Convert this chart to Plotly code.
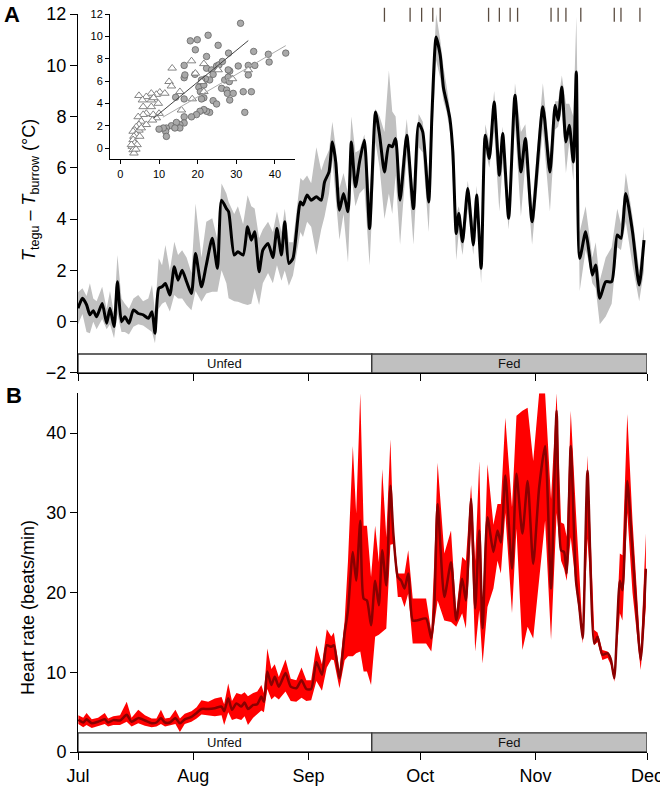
import plotly.graph_objects as go

# ---------------- Panel A: T_tegu - T_burrow (°C), x = days since 1 Jul ----------------
a_day = [0, 1.2, 2.3, 3.2, 4.1, 5.0, 6.5, 7.7, 8.6, 9.7,
         10.6, 11.7, 12.6, 13.7, 14.9, 16.2, 17.5, 18.9, 19.9, 20.7,
         21.7, 22.6, 23.5, 24.7, 25.9, 26.9, 28.0, 29.2, 30.5, 31.6,
         33.2, 34.5, 36.1, 37.5, 38.6, 39.9, 40.5, 42.0, 43.0, 44.4,
         45.6, 46.6, 47.5, 48.7, 49.7, 51.1, 52.4, 53.5, 54.7, 55.6,
         56.7, 57.8, 59.8, 60.5, 61.6, 62.7, 64.1, 65.4, 66.3, 67.5,
         68.4, 69.3, 70.3, 71.4, 72.6, 73.5, 74.6, 75.7, 77.0, 78.4,
         80.0, 81.1, 82.4, 83.6, 84.5, 85.4, 86.6, 88.4, 90.2, 91.6,
         92.7, 94.3, 95.2, 96.3, 97.4, 98.3, 99.1, 100.0, 100.8, 101.7,
         102.4, 103.4, 104.8, 106.3, 107.2, 108.4, 109.5, 110.6, 111.9, 113.3,
         114.2, 115.8, 117.5, 119.1, 120.3, 122.1, 125.0, 126.9, 128.3, 129.1,
         130.1, 131.2, 132.1, 133.2, 134.0, 134.9, 136.5, 137.4, 138.3, 139.2,
         140.3, 141.9, 143.5, 145.0, 146.0, 147.3, 149.1, 150.9, 152.2]
a_mean = [0.52, 0.91, 0.66, 0.27, 0.43, 0.19, 0.71, -0.06, 0.52, -0.19,
          1.56, 0.00, 0.19, -0.06, 0.46, 0.32, 0.27, 0.13, 0.39, -0.45,
          1.30, 1.36, 1.49, 1.04, 2.14, 1.62, 2.01, 1.56, 1.10, 2.66,
          1.36, 2.21, 3.25, 2.08, 4.74, 4.41, 4.29, 2.60, 2.73, 2.60,
          3.70, 3.18, 3.51, 1.95, 2.79, 3.05, 2.50, 3.63, 2.60, 3.90,
          2.27, 2.47, 4.67, 4.55, 4.94, 4.74, 4.87, 4.74, 5.45, 5.84,
          7.01, 6.23, 4.35, 5.00, 4.29, 7.01, 5.26, 6.23, 7.08, 3.63,
          8.18, 7.27, 5.84, 6.88, 6.82, 7.14, 4.74, 7.27, 4.41, 7.73,
          7.40, 4.67, 8.18, 11.10, 10.39, 9.09, 8.57, 7.92, 6.62, 3.44,
          4.22, 3.12, 5.19, 2.99, 4.94, 2.08, 7.27, 6.36, 8.57, 5.71,
          7.34, 4.03, 8.83, 5.84, 7.14, 3.90, 8.38, 5.84, 8.44, 7.86,
          9.15, 7.01, 7.66, 6.23, 9.74, 2.47, 3.51, 2.73, 1.82, 2.21,
          0.91, 1.56, 1.56, 3.38, 3.25, 5.00, 3.51, 1.43, 3.18]
a_lo = [-0.10, 0.30, -0.40, -0.45, 0.00, -0.30, 0.10, -0.30, -0.10, -0.65,
        0.30, -0.40, -0.40, -0.50, -0.20, -0.10, -0.15, -0.30, -0.40, -0.84,
        0.50, 0.70, 0.78, 0.40, 1.04, 0.90, 0.90, 0.65, 0.45, 1.20,
        0.78, 1.10, 1.17, 1.17, 2.01, 1.50, 0.91, 0.80, 0.78, 0.70,
        0.65, 0.70, 1.30, 0.65, 1.50, 1.90, 1.50, 2.20, 1.60, 2.00,
        1.40, 1.80, 3.50, 3.30, 3.90, 3.70, 2.60, 3.60, 4.10, 5.00,
        6.30, 5.00, 3.20, 4.20, 2.30, 5.70, 4.50, 5.00, 5.20, 2.20,
        7.00, 6.00, 4.00, 5.00, 4.20, 5.70, 3.00, 6.50, 3.00, 6.80,
        6.60, 3.50, 7.00, 10.20, 9.50, 8.60, 8.20, 7.40, 5.50, 2.40,
        3.50, 2.60, 4.40, 2.60, 4.50, 1.50, 6.70, 6.00, 7.40, 4.30,
        6.20, 3.60, 7.70, 4.10, 6.20, 3.00, 7.50, 4.30, 7.50, 7.60,
        8.30, 5.80, 7.00, 5.50, 9.50, 1.20, 2.80, 2.30, 1.50, 1.30,
        -0.10, 0.20, 0.70, 2.90, 2.80, 3.90, 2.20, 0.80, 2.00]
a_hi = [1.15, 1.30, 1.00, 1.50, 0.90, 0.80, 1.36, 0.50, 1.20, 0.30,
        2.60, 0.90, 0.70, 0.50, 0.90, 1.04, 0.80, 0.90, 1.43, 0.40,
        2.47, 2.20, 2.99, 2.00, 3.12, 2.60, 2.79, 2.50, 1.90, 4.61,
        2.50, 3.90, 4.03, 3.20, 5.39, 5.00, 4.67, 4.20, 4.50, 3.80,
        4.93, 4.50, 4.41, 3.25, 3.60, 3.90, 3.50, 4.30, 3.50, 4.40,
        3.10, 3.10, 5.60, 5.50, 5.70, 5.40, 6.80, 5.90, 6.30, 6.70,
        7.80, 6.80, 5.20, 5.80, 5.00, 8.00, 6.60, 6.70, 7.30, 5.00,
        8.30, 8.00, 7.40, 9.80, 8.20, 8.00, 5.50, 7.90, 5.00, 8.10,
        7.80, 5.50, 8.80, 12.00, 11.00, 9.90, 9.20, 8.30, 7.00, 4.20,
        4.50, 3.60, 5.50, 3.80, 5.30, 2.50, 7.70, 7.00, 9.00, 6.50,
        7.60, 4.50, 9.30, 7.40, 7.70, 4.50, 9.30, 6.50, 8.60, 8.60,
        9.60, 8.50, 8.50, 8.00, 11.90, 3.50, 4.50, 3.60, 2.50, 3.10,
        1.60, 2.50, 2.90, 4.40, 3.80, 5.80, 4.10, 2.00, 3.70]

# meal days (tick marks along the top of panel A)
meal_days = [82.4, 89.3, 92.4, 95.4, 97.4, 110.4, 113.3, 116.2, 118.2,
             127.2, 129.1, 131.2, 135.2, 144.2, 146.0, 151.1]

# ---------------- Inset scatter ----------------
circ_x = [31.1, 22.7, 18.1, 19.9, 19.4, 25.3, 28.0, 22.3, 16.5, 19.3,
          16.5, 16.7, 22.3, 23.6, 24.9, 25.5, 26.4, 28.3, 27.9, 24.0,
          23.1, 22.0, 20.3, 20.7, 21.6, 21.0, 16.5, 14.3, 24.0, 24.9,
          26.2, 27.0, 27.9, 28.2, 27.5, 27.7, 28.3, 30.5, 33.1, 31.8,
          32.2, 33.1, 33.9, 34.5, 34.8, 38.3, 38.5, 42.8, 23.1, 22.3,
          21.6, 20.6, 19.7, 18.4, 16.5, 16.5, 15.4, 14.5, 13.2, 14.5,
          11.9, 11.7, 11.1, 10.0, 11.9, 15.4, 14.1, 21.0, 21.6, 29.2]
circ_y = [11.17, 10.1, 9.6, 9.7, 8.8, 9.2, 8.5, 8.2, 7.4, 6.6,
          6.3, 6.55, 7.15, 7.0, 7.35, 7.45, 7.75, 6.9, 7.0, 6.6,
          6.1, 6.2, 5.45, 5.05, 4.5, 4.4, 4.4, 4.55, 4.25, 3.95,
          5.35, 6.1, 6.35, 5.95, 5.2, 4.9, 4.3, 7.35, 7.4, 5.05,
          3.2, 6.55, 5.05, 8.65, 7.4, 8.4, 7.7, 8.5, 3.2, 3.3,
          3.45, 3.3, 3.0, 2.8, 2.8, 2.25, 2.1, 1.95, 2.0, 2.3,
          1.8, 1.5, 1.8, 1.7, 1.05, 1.8, 1.8, 6.1, 5.65, 4.9]
tri_x = [18.4, 13.4, 21.6, 19.4, 21.0, 21.6, 12.6, 13.2, 15.4, 18.6,
         15.8, 25.3, 33.1, 29.0, 10.2, 11.5, 9.3, 8.0, 6.7, 4.8,
         5.7, 8.0, 8.6, 9.8, 10.0, 8.0, 5.9, 6.7, 8.5, 9.3,
         8.3, 5.9, 4.6, 5.4, 6.7, 4.8, 4.1, 3.7, 3.3, 4.8,
         4.1, 3.5, 3.3, 3.7, 3.1, 4.3, 3.3, 3.5, 4.0, 2.85,
         5.0, 5.4]
tri_y = [7.8, 7.15, 7.55, 6.7, 5.95, 5.05, 5.95, 5.55, 5.05, 4.4,
         3.4, 7.0, 7.0, 6.2, 5.0, 4.9, 4.8, 4.9, 4.6, 4.7,
         4.3, 4.3, 4.5, 4.0, 3.1, 3.7, 3.7, 3.1, 3.0, 2.7,
         2.5, 3.0, 2.8, 2.4, 2.1, 2.1, 1.9, 1.6, 1.5, 1.6,
         1.2, 1.05, 0.75, 0.45, 0.15, 0.3, -0.15, -0.45, -0.1, 0.3,
         1.05, 1.8]
fit_dark_x = [8.6, 33.1]
fit_dark_y = [2.68, 9.62]
fit_light_x = [11.0, 42.8]
fit_light_y = [2.77, 9.17]

# ---------------- Panel B: heart rate (beats/min) ----------------
b_day = [0.1, 1.4, 2.3, 3.7, 5.4, 7.2, 8.1, 9.5, 11.3, 13.1,
         14.4, 16.2, 18.0, 19.8, 21.1, 22.3, 23.4, 24.7, 26.2, 27.4,
         28.7, 30.5, 31.9, 33.2, 35.0, 36.8, 38.6, 39.3, 40.4, 41.4,
         42.6, 43.9, 44.8, 45.7, 47.1, 48.2, 49.3, 50.0, 50.9, 52.0,
         52.9, 54.0, 55.8, 57.2, 58.7, 60.1, 61.4, 62.7, 64.1, 65.6,
         66.9, 68.1, 68.8, 70.3, 71.7, 72.6, 73.9, 74.8, 75.9, 76.8,
         77.7, 78.8, 79.9, 80.9, 81.8, 82.9, 84.0, 84.8, 86.0, 86.9,
         87.8, 88.8, 90.0, 91.1, 93.6, 95.0, 95.8, 96.7, 98.5, 100.3,
         101.7, 103.3, 104.3, 105.7, 106.8, 107.9, 108.8, 110.1, 111.7, 112.8,
         113.7, 114.9, 116.7, 117.9, 119.5, 120.9, 122.4, 124.0, 125.6, 127.2,
         128.7, 129.9, 130.7, 131.4, 132.5, 133.9, 134.8, 135.7, 137.0, 138.8,
         139.7, 141.0, 142.4, 143.3, 144.2, 145.7, 146.4, 147.7, 149.1, 151.3,
         152.7]
b_mean = [4.04, 3.7, 4.1, 3.6, 3.8, 4.1, 3.7, 4.0, 3.95, 4.66,
          3.8, 4.25, 3.95, 3.6, 3.7, 4.25, 3.7, 3.7, 4.25, 3.6,
          4.1, 4.4, 4.9, 5.4, 5.4, 5.5, 5.7, 5.1, 6.75, 5.3,
          6.1, 5.7, 6.2, 5.4, 5.9, 6.0, 6.95, 6.3, 10.1, 8.4,
          9.45, 8.2, 9.9, 8.2, 8.0, 9.0, 7.9, 7.9, 11.3, 9.7,
          13.4, 13.2, 13.4, 9.25, 14.9, 17.8, 25.1, 21.5, 29.0, 19.25,
          19.0, 15.9, 21.5, 18.4, 25.3, 20.9, 33.4, 27.4, 21.95, 21.5,
          20.5, 22.4, 16.5, 16.5, 16.75, 14.25, 18.2, 31.1, 19.45, 23.8,
          16.5, 21.75, 19.0, 31.75, 18.0, 27.8, 15.5, 29.45, 25.1, 27.8,
          26.3, 34.7, 23.0, 34.9, 27.4, 34.0, 23.6, 33.2, 38.4, 20.5,
          42.8, 25.3, 25.1, 22.4, 38.4, 21.5, 18.2, 14.25, 35.3, 13.6,
          14.45, 12.2, 12.4, 11.55, 9.25, 21.5, 20.3, 34.0, 25.3, 11.55,
          23.0]
b_lo = [3.5, 3.1, 3.4, 3.0, 3.2, 3.5, 3.2, 3.4, 3.4, 3.8,
        3.2, 3.6, 3.3, 3.1, 3.2, 3.5, 3.2, 3.3, 3.5, 2.5,
        3.5, 3.8, 4.2, 4.7, 4.6, 4.5, 4.6, 3.4, 5.0, 4.0,
        4.2, 4.0, 4.5, 3.4, 4.3, 4.8, 5.2, 5.0, 7.9, 6.6,
        7.0, 6.6, 7.6, 6.4, 6.3, 6.8, 6.4, 6.5, 8.9, 7.7,
        10.6, 11.6, 11.5, 8.0, 11.5, 12.0, 12.0, 12.4, 12.6, 10.1,
        10.1, 8.4, 14.45, 14.7, 15.0, 15.5, 26.0, 26.1, 19.45, 19.45,
        18.2, 19.9, 13.6, 13.6, 13.6, 12.6, 16.0, 19.0, 16.5, 16.3,
        15.7, 17.4, 15.5, 28.0, 12.6, 17.8, 11.1, 18.2, 20.5, 24.0,
        22.4, 30.0, 17.4, 28.0, 12.8, 15.7, 14.25, 22.0, 29.0, 14.05,
        30.0, 24.0, 23.0, 21.5, 26.95, 20.7, 17.0, 13.6, 26.75, 13.4,
        13.8, 11.55, 11.8, 10.9, 8.8, 17.4, 16.5, 30.0, 20.0, 10.3,
        18.2]
b_hi = [4.6, 4.3, 4.9, 4.1, 4.3, 4.9, 4.2, 4.5, 4.6, 6.3,
        4.3, 5.3, 4.6, 4.2, 4.2, 5.3, 4.2, 4.3, 5.3, 4.2,
        4.8, 5.1, 5.6, 6.5, 6.3, 6.7, 6.9, 6.0, 8.6, 6.4,
        7.4, 7.2, 7.5, 7.0, 7.4, 7.6, 8.4, 7.4, 13.0, 10.4,
        11.0, 9.4, 11.6, 9.2, 9.0, 10.6, 9.0, 9.0, 13.4, 11.0,
        15.4, 14.5, 15.0, 10.3, 16.5, 24.0, 38.4, 29.9, 45.0, 28.4,
        28.4, 21.95, 28.4, 23.8, 35.5, 26.95, 39.25, 28.0, 22.4, 22.4,
        22.4, 25.3, 19.25, 19.25, 19.25, 15.1, 24.0, 36.3, 24.9, 27.8,
        17.4, 24.45, 24.0, 33.5, 24.0, 36.5, 17.5, 36.1, 28.5, 31.1,
        31.1, 41.95, 30.7, 42.2, 42.8, 43.2, 36.5, 45.0, 45.0, 31.75,
        45.0, 28.8, 28.6, 27.0, 42.8, 30.0, 22.0, 15.0, 37.2, 15.3,
        15.0, 12.8, 12.6, 12.0, 9.6, 24.9, 24.7, 42.4, 29.0, 12.4,
        27.4]

month_days = [0, 31, 62, 92, 123, 153]
month_labels = ["Jul", "Aug", "Sep", "Oct", "Nov", "Dec"]
period_names = ["Unfed", "Fed"]
period_start = [0, 79]
period_end = [79, 153]

for arr in (a_mean, a_lo, a_hi):
    assert len(arr) == len(a_day)
for arr in (b_mean, b_lo, b_hi):
    assert len(arr) == len(b_day)
assert len(circ_x) == len(circ_y) and len(tri_x) == len(tri_y)

FONT = "Liberation Sans, Arial, sans-serif"

fig = go.Figure()

# Panel A band + mean
fig.add_trace(go.Scatter(x=a_day + a_day[::-1], y=a_hi + a_lo[::-1], fill="toself",
                         fillcolor="#c0c0c0", line=dict(width=0), mode="lines",
                         hoverinfo="skip", xaxis="x", yaxis="y"))
fig.add_trace(go.Scatter(x=a_day, y=a_mean, mode="lines",
                         line=dict(color="black", width=3, shape="spline", smoothing=0.6),
                         xaxis="x", yaxis="y"))
fig.add_trace(go.Scatter(x=meal_days, y=[11.97] * len(meal_days), mode="markers",
                         marker=dict(symbol="line-ns-open", size=10, color="#5a4c40",
                                     line=dict(color="#5a4c40", width=1.3)),
                         cliponaxis=False, xaxis="x", yaxis="y"))

# Panel B band + mean
fig.add_trace(go.Scatter(x=b_day + b_day[::-1], y=b_hi + b_lo[::-1], fill="toself",
                         fillcolor="#ff0000", line=dict(width=0), mode="lines",
                         hoverinfo="skip", xaxis="x2", yaxis="y2"))
fig.add_trace(go.Scatter(x=b_day, y=b_mean, mode="lines",
                         line=dict(color="#8b0000", width=2.5, shape="spline", smoothing=0.6),
                         xaxis="x2", yaxis="y2"))

# Inset
fig.add_trace(go.Scatter(x=circ_x, y=circ_y, mode="markers",
                         marker=dict(symbol="circle", size=6.5, color="#a9a9a9",
                                     line=dict(color="#666666", width=0.8)),
                         cliponaxis=False, xaxis="x3", yaxis="y3"))
fig.add_trace(go.Scatter(x=tri_x, y=tri_y, mode="markers",
                         marker=dict(symbol="triangle-up", size=7.5, color="white",
                                     line=dict(color="#777777", width=0.9)),
                         cliponaxis=False, xaxis="x3", yaxis="y3"))
fig.add_trace(go.Scatter(x=fit_dark_x, y=fit_dark_y, mode="lines",
                         line=dict(color="#444444", width=1), xaxis="x3", yaxis="y3"))
fig.add_trace(go.Scatter(x=fit_light_x, y=fit_light_y, mode="lines",
                         line=dict(color="#aaaaaa", width=1), xaxis="x3", yaxis="y3"))

# Unfed / Fed strips
shapes = []
annotations = []
bar_fill = ["white", "#c0c0c0"]
for yref, y0, y1 in (("y", -2, -1.26), ("y2", 0, 2.4)):
    for name, s, e, fc in zip(period_names, period_start, period_end, bar_fill):
        shapes.append(dict(type="rect", xref="x" if yref == "y" else "x2", yref=yref,
                           x0=s, x1=e, y0=y0, y1=y1, fillcolor=fc,
                           line=dict(color="#333333", width=1.3), layer="above"))
        annotations.append(dict(xref="x" if yref == "y" else "x2", yref=yref,
                                x=(s + e) / 2, y=(y0 + y1) / 2, text=name, showarrow=False,
                                font=dict(size=13, color="#111", family=FONT)))

annotations += [
    dict(xref="paper", yref="paper", x=-0.116, y=1.0, text="<b>A</b>", showarrow=False,
         font=dict(size=22, family=FONT, color="black"), xanchor="center", yanchor="middle"),
    dict(xref="paper", yref="paper", x=-0.112, y=0.4837, text="<b>B</b>", showarrow=False,
         font=dict(size=22, family=FONT, color="black"), xanchor="center", yanchor="middle"),
    dict(xref="paper", yref="paper", x=-0.0844, y=0.7615, textangle=-90,
         text="<i>T</i><sub>tegu</sub> – <i>T</i><sub>burrow</sub> (°C)", showarrow=False,
         font=dict(size=18, family=FONT, color="black"), xanchor="center", yanchor="middle"),
    dict(xref="paper", yref="paper", x=-0.0879, y=0.1965, textangle=-90,
         text="Heart rate (beats/min)", showarrow=False,
         font=dict(size=18, family=FONT, color="black"), xanchor="center", yanchor="middle"),
]

axis_common = dict(showgrid=False, zeroline=False, showline=True, linecolor="black",
                   linewidth=1, ticks="outside", tickcolor="black", ticklen=7,
                   automargin=False, ticklabeloverflow="allow",
                   tickfont=dict(size=18, family=FONT, color="black"))
inset_common = dict(showgrid=False, zeroline=False, showline=True, linecolor="black",
                    linewidth=1, ticks="outside", tickcolor="black", ticklen=4,
                    automargin=False,
                    tickfont=dict(size=11, family=FONT, color="black"))

fig.update_layout(
    width=660, height=789,
    margin=dict(l=78, r=13, t=14, b=37, autoexpand=False),
    paper_bgcolor="white", plot_bgcolor="white",
    showlegend=False,
    font=dict(family=FONT, color="black"),
    xaxis=dict(domain=[0, 1], range=[0, 153], anchor="y", tickvals=month_days,
               showticklabels=False, **axis_common),
    yaxis=dict(domain=[0.5136, 1], range=[-2, 12], anchor="x",
               tickvals=[-2, 0, 2, 4, 6, 8, 10, 12],
               ticktext=["−2", "0", "2", "4", "6", "8", "10", "12"], **axis_common),
    xaxis2=dict(domain=[0, 1], range=[0, 153], anchor="y2", tickvals=month_days,
                ticktext=month_labels, **axis_common),
    yaxis2=dict(domain=[0, 0.486], range=[0, 45], anchor="x2",
                tickvals=[0, 10, 20, 30, 40], **axis_common),
    xaxis3=dict(domain=[0.0562, 0.3814], range=[-2.7, 45.2], anchor="y3",
                tickvals=[0, 10, 20, 30, 40], **inset_common),
    yaxis3=dict(domain=[0.8031, 1.0], range=[-1, 12], anchor="x3",
                tickvals=[0, 2, 4, 6, 8, 10, 12], **inset_common),
    shapes=shapes,
    annotations=annotations,
)

fig.write_html("out.html", config={"displayModeBar": False},
               post_script="document.body.style.margin='0';")
